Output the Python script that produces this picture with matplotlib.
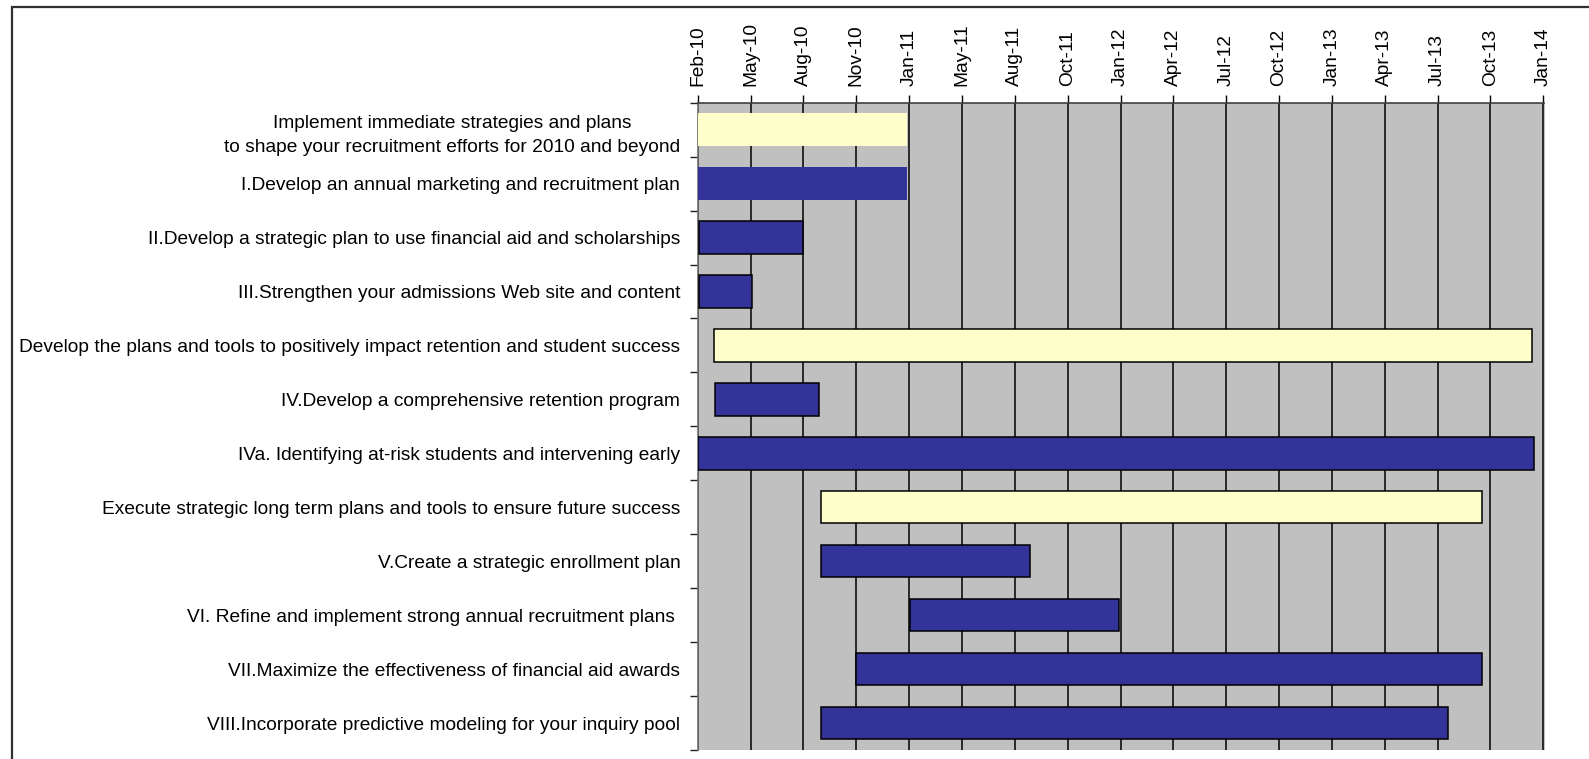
import matplotlib
matplotlib.use("Agg")
import matplotlib.pyplot as plt
import matplotlib.dates as mdates
from matplotlib.patches import Rectangle
import numpy as np

plt.rcParams['font.family'] = ['Liberation Sans', 'DejaVu Sans']

tasks = [
    "Implement immediate strategies and plans\nto shape your recruitment efforts for 2010 and beyond",
    "I.Develop an annual marketing and recruitment plan",
    "II.Develop a strategic plan to use financial aid and scholarships",
    "III.Strengthen your admissions Web site and content",
    "Develop the plans and tools to positively impact retention and student success",
    "IV.Develop a comprehensive retention program",
    "IVa. Identifying at-risk students and intervening early",
    "Execute strategic long term plans and tools to ensure future success",
    "V.Create a strategic enrollment plan",
    "VI. Refine and implement strong annual recruitment plans ",
    "VII.Maximize the effectiveness of financial aid awards",
    "VIII.Incorporate predictive modeling for your inquiry pool",
]
starts = ["2010-02-02", "2010-02-02", "2010-02-04", "2010-02-04", "2010-03-01", "2010-03-03",
          "2010-02-01", "2010-09-01", "2010-09-01", "2011-02-01", "2010-11-01", "2010-09-01"]
ends = ["2011-01-27", "2011-01-27", "2010-08-02", "2010-05-05", "2014-01-08", "2010-08-29",
        "2014-01-11", "2013-10-14", "2011-08-28", "2012-01-27", "2013-10-14", "2013-08-16"]
kinds = ["phase", "task", "task", "task", "phase", "task",
         "task", "phase", "task", "task", "task", "task"]

axis_start = "2010-02-01"
axis_end = "2014-01-29"
tick_step_days = 91

NAVY = "#333399"
YELLOW = "#FFFFCC"
GRAY = "#C0C0C0"

W, H = 1589, 759
fig = plt.figure(figsize=(W / 100, H / 100), dpi=100)

# outer chart border
fig.patches.append(Rectangle((11.5 / W, -0.1), 1.2, 1.1 - 7.5 / H,
                             transform=fig.transFigure, fill=False,
                             edgecolor="#303030", lw=1.6))

left_px, right_px, top_px, bot_px = 697.7, 1544.5, 102.7, 750.0
ax = fig.add_axes([left_px / W, 1 - bot_px / H, (right_px - left_px) / W, (bot_px - top_px) / H])
ax.set_facecolor(GRAY)

d0 = mdates.datestr2num(axis_start)
d1 = mdates.datestr2num(axis_end)
s = mdates.datestr2num(starts)
e = mdates.datestr2num(ends)
n = len(tasks)
ypos = np.arange(n)

for i in range(n):
    col = YELLOW if kinds[i] == "phase" else NAVY
    edge = "black" if i >= 2 else "none"
    ax.barh(ypos[i], e[i] - s[i], left=s[i], height=0.6, color=col,
            edgecolor=edge, linewidth=1.1, zorder=3)

ax.set_ylim(n - 0.5, -0.5)
ax.set_xlim(d0, d1)

ticks = np.arange(d0, d1, tick_step_days)
ax.set_xticks(ticks)
ax.xaxis.set_major_formatter(mdates.DateFormatter("%b-%y"))
ax.xaxis.tick_top()
ax.tick_params(axis="x", which="major", direction="out", length=6, width=1,
               color="black", labelsize=13.8, pad=6, labelrotation=90)
for lab in ax.get_xticklabels():
    lab.set_verticalalignment("bottom")
ax.grid(axis="x", color="black", lw=1.1, zorder=1)
ax.set_axisbelow(True)

ax.set_yticks(ypos)
ax.set_yticklabels(tasks, fontsize=13.8, multialignment="center", linespacing=1.6)
ax.set_yticks(np.arange(n + 1) - 0.5, minor=True)
ax.tick_params(axis="y", which="major", length=0, pad=12.5)
ax.tick_params(axis="y", which="minor", direction="out", length=6, width=1, color="#202020")

ax.spines["top"].set_color("#404040")
ax.spines["top"].set_linewidth(1.2)
ax.spines["left"].set_color("#707070")
ax.spines["left"].set_linewidth(1.2)
ax.spines["bottom"].set_visible(False)
ax.spines["right"].set_visible(False)

fig.savefig("out.png", dpi=100)
